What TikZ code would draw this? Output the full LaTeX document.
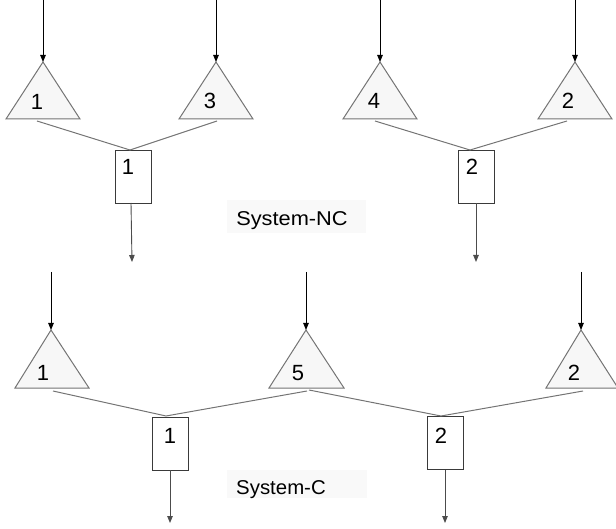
\documentclass[tikz,border=0pt]{standalone}
\usepackage{fontspec}
\setmainfont{Liberation Sans}
\usetikzlibrary{arrows.meta}
\definecolor{triline}{HTML}{747474}
\definecolor{trifill}{HTML}{F7F7F7}
\definecolor{boxline}{HTML}{3A3A3A}
\definecolor{tagfill}{HTML}{F9F9F9}
\tikzset{
  flow/.style={draw=black, line width=0.9pt, -{Triangle[length=7pt,width=5.5pt]}},
  outflow/.style={draw=black!70, line width=0.9pt, -{Triangle[length=7pt,width=5.5pt]}},
  feed/.style={draw=triline, line width=1pt},
  tri/.style={draw=triline, fill=trifill, line width=1pt, line join=miter},
  unitbox/.style={draw=boxline, fill=white, line width=0.9pt, minimum width=36pt, minimum height=53pt, inner sep=0pt},
  num/.style={font=\fontsize{22}{22}\selectfont, inner sep=0pt, text height=15.75pt, text depth=0pt},
  tag/.style={fill=tagfill, inner sep=0pt},
  tagtext/.style={font=\fontsize{20}{20}\selectfont, inner sep=0pt, anchor=base}
}
\begin{document}
\begin{tikzpicture}[x=1pt, y=-1pt]
\useasboundingbox (0,0) rectangle (616,529);
\clip (0,0) rectangle (616,529);

% ---------------- System-NC ----------------
% caption background and text
\node[tag, minimum width=139pt, minimum height=33pt] (ncbg) at (296.5,216.5) {};
\node[tagtext] (nc) at (292,226) {\scalebox{1.09}[1]{System-NC}};

% sources
\coordinate (s1) at (43,0);   \coordinate (a1) at (43,62);
\coordinate (s2) at (216,0);  \coordinate (a2) at (216,62);
\coordinate (s3) at (380,0);  \coordinate (a3) at (380,62);
\coordinate (s4) at (575,0);  \coordinate (a4) at (575,62);

% triangles
\draw[tri] (a1) -- (80,119) -- (6,119) -- cycle;
\draw[tri] (a2) -- (253,119) -- (179,119) -- cycle;
\draw[tri] (a3) -- (417,119) -- (343,119) -- cycle;
\draw[tri] (a4) -- (612,119) -- (538,119) -- cycle;
\node[num] (n1) at (37,102) {1};
\node[num] (n2) at (210,101) {3};
\node[num] (n3) at (374,101) {4};
\node[num] (n4) at (568,101) {2};

% feed points under the triangles
\coordinate (f1) at (37,121);
\coordinate (f2) at (217,121);
\coordinate (f3) at (375,121);
\coordinate (f4) at (567,121);

% units
\node[unitbox] (u1) at (133,176.5) {};
\node[unitbox] (u2) at (476,176.5) {};
\node[num] (m1) at (128,167) {1};
\node[num] (m2) at (472,167) {2};
\coordinate (j1) at (130,150);
\coordinate (j2) at (470,150);

\draw[feed] (f1) -- (j1) -- (f2);
\draw[feed] (f3) -- (j2) -- (f4);

\draw[flow] (s1) -- (a1);
\draw[flow] (s2) -- (a2);
\draw[flow] (s3) -- (a3);
\draw[flow] (s4) -- (a4);

\coordinate (o1) at (132,262);
\coordinate (o2) at (476,262);
\draw[outflow] (131,203) -- (o1);
\draw[outflow] (u2.south) -- (o2);

% ---------------- System-C ----------------
\node[tag, minimum width=140pt, minimum height=28pt] (cbg) at (297,484) {};
\node[tagtext] (c) at (281,494) {\scalebox{1.02}[1]{System-C}};

\coordinate (s5) at (51,272);  \coordinate (a5) at (51,330);
\coordinate (s6) at (306,272); \coordinate (a6) at (306,330);
\coordinate (s7) at (581,272); \coordinate (a7) at (581,330);

\draw[tri] (a5) -- (89,388) -- (15,388) -- cycle;
\draw[tri] (a6) -- (344,388) -- (269,388) -- cycle;
\draw[tri] (a7) -- (618,388) -- (546,388) -- cycle;
\node[num] (n5) at (43,372.5) {1};
\node[num] (n6) at (298,372.5) {5};
\node[num] (n7) at (574,372.5) {2};

\coordinate (f5) at (53,391);
\coordinate (f6) at (307,391);
\coordinate (f6b) at (309,390);
\coordinate (f7) at (583,391);

\node[unitbox] (u3) at (170,443.5) {};
\node[unitbox] (u4) at (445,443) {};
\node[num] (m3) at (170,436) {1};
\node[num] (m4) at (441,436) {2};
\coordinate (j3) at (166,416);
\coordinate (j4) at (441,416);

\draw[feed] (f5) -- (j3) -- (f6);
\draw[feed] (f6b) -- (j4) -- (f7);

\draw[flow] (s5) -- (a5);
\draw[flow] (s6) -- (a6);
\draw[flow] (s7) -- (a7);

\coordinate (o3) at (170,523);
\coordinate (o4) at (445,523);
\draw[outflow] (u3.south) -- (o3);
\draw[outflow] (u4.south) -- (o4);
\end{tikzpicture}
\end{document}
